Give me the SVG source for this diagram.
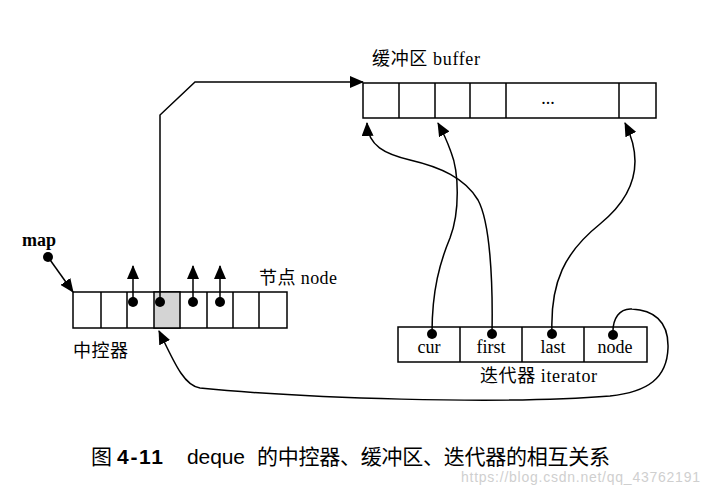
<svg xmlns="http://www.w3.org/2000/svg" width="707" height="492" viewBox="0 0 707 492">
<defs>
<marker id="ah" markerUnits="userSpaceOnUse" markerWidth="14" markerHeight="12" viewBox="0 0 14 12" refX="13" refY="6" orient="auto">
<path d="M0,0 L14,6 L0,12 Z" fill="#000"/>
</marker>
</defs>
<style>
.box{fill:#fff;stroke:#000;stroke-width:1.5}
.shade{fill:#d4d4d4;stroke:#000;stroke-width:1.5}
.ln{fill:none;stroke:#000;stroke-width:1.5}
.con{fill:none;stroke:#000;stroke-width:1.5;marker-end:url(#ah)}
.dot{fill:#000}
.t{font-family:"Liberation Serif","Noto Sans CJK SC",serif;font-size:18px;fill:#000}
.c{font-family:"Liberation Sans","Noto Sans CJK SC",sans-serif;font-size:21px;fill:#000}
</style>
<rect width="707" height="492" fill="#fff"/>

<g id="buffer">
<rect class="box" x="363" y="83" width="293" height="35"/>
<path class="ln" d="M399,83 V118 M435,83 V118 M470,83 V118 M506,83 V118 M619,83 V118"/>
<text class="t" x="548" y="104" text-anchor="middle" font-size="13">...</text>
<text class="t" x="372" y="65" textLength="108">缓冲区 buffer</text>
</g>

<g id="map">
<rect class="box" x="73" y="292" width="214" height="36"/>
<rect class="shade" x="154" y="292" width="26" height="36"/>
<path class="ln" d="M101,292 V328 M127,292 V328 M207,292 V328 M233,292 V328 M259,292 V328"/>
<text class="t" x="259" y="284" textLength="78">节点 node</text>
<text class="t" x="73" y="357" textLength="55">中控器</text>
</g>

<g id="map-pointer">
<text class="t" x="22" y="246" font-weight="bold" font-size="15">map</text>
<circle class="dot" cx="48" cy="257" r="5"/>
</g>

<g id="iterator">
<rect class="box" x="398" y="327" width="249" height="35"/>
<path class="ln" d="M460,327 V362 M522,327 V362 M584,327 V362"/>
<text class="t" x="429" y="353" text-anchor="middle">cur</text>
<text class="t" x="491" y="353" text-anchor="middle">first</text>
<text class="t" x="553" y="353" text-anchor="middle">last</text>
<text class="t" x="615" y="353" text-anchor="middle">node</text>
<text class="t" x="480" y="382" textLength="117">迭代器 iterator</text>
</g>

<g id="connectors">
<path class="con" d="M48,257 L73,292"/>
<path class="con" d="M133,302 V266"/>
<path class="con" d="M193,302 V266"/>
<path class="con" d="M220,302 V266"/>
<path class="con" d="M160,302 V115 L195,82 H363"/>
<path class="con" d="M492,333 C493,280 490,222 478,200 C465,178 440,167 410,160 C385,154 368,146 367,123"/>
<path class="con" d="M432,333 C432,290 440,262 450,238 C460,212 459,172 451,152 C447,141 443,132 438,123"/>
<path class="con" d="M552,333 C550,282 565,252 600,224 C632,198 646,165 625,123"/>
<path class="con" d="M613,335 C612,318 620,308 632,309 C652,310 669,320 668,348 C667,378 648,392 610,396 C500,405 300,398 200,388 C184,386 174,362 159,331"/>
<circle class="dot" cx="133" cy="302" r="5"/>
<circle class="dot" cx="160" cy="302" r="5"/>
<circle class="dot" cx="193" cy="302" r="5"/>
<circle class="dot" cx="220" cy="302" r="5"/>
<circle class="dot" cx="432" cy="334" r="5"/>
<circle class="dot" cx="492" cy="334" r="5"/>
<circle class="dot" cx="552" cy="334" r="5"/>
<circle class="dot" cx="613" cy="335" r="5"/>
</g>

<g id="caption">
<text class="c" x="91" y="464">图</text>
<text class="c" x="117" y="464" font-weight="bold" textLength="46">4-11</text>
<text class="c" x="187" y="464" textLength="58">deque</text>
<text class="c" x="257" y="464" textLength="353">的中控器、缓冲区、迭代器的相互关系</text>
<text x="461" y="482" textLength="239" font-family="Liberation Sans,sans-serif" font-size="14" fill="#cfcfcf">https://blog.csdn.net/qq_43762191</text>
</g>
</svg>
